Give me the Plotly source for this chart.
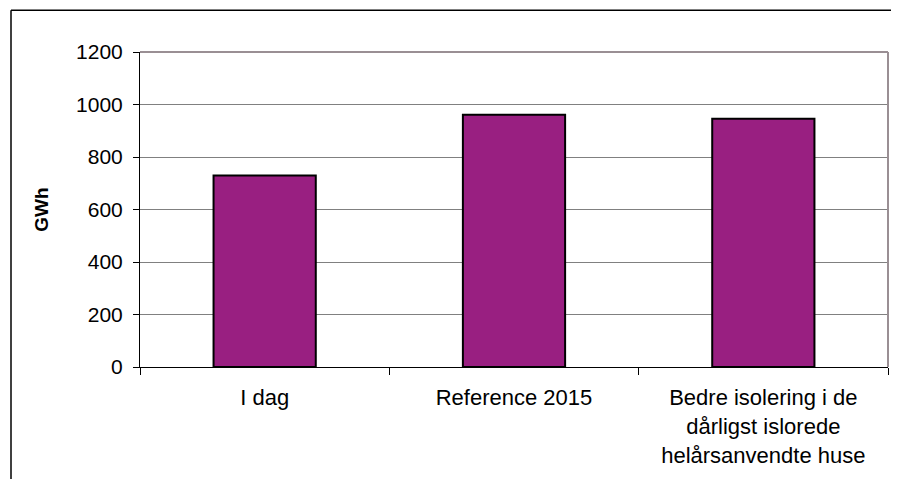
import plotly.graph_objects as go

categories = ["I dag", "Reference 2015", "Bedre isolering i de<br>dårligst islorede<br>helårsanvendte huse"]
values = [730, 961, 946]
y_ticks = [0, 200, 400, 600, 800, 1000, 1200]

# page is offset by the default 8px body margin
O = 8
W, H = 899 - O, 479 - O
L, R, T, B = 140 - O, 11, 52 - O, 110
pw = W - L - R
ph = H - T - B

def px(x):
    return (x - O - L) / pw

def py(y):
    return (H - B - (y - O)) / ph

fig = go.Figure(go.Bar(
    x=categories, y=values,
    marker=dict(color="#991f81", line=dict(color="black", width=2)),
    width=0.41,
))

fig.update_layout(
    width=W, height=H,
    margin=dict(l=L, r=R, t=T, b=B),
    paper_bgcolor="white", plot_bgcolor="white",
    font=dict(family="Liberation Sans, Arial, sans-serif", size=21, color="black"),
    showlegend=False,
    xaxis=dict(
        type="category", showgrid=False, ticks="outside", tickson="boundaries",
        ticklen=7, tickcolor="black", showline=True, linecolor="black", linewidth=1,
        tickfont=dict(size=22), ticklabelstandoff=11,
    ),
    yaxis=dict(
        range=[0, 1200], tickvals=y_ticks, showgrid=True, gridcolor="#808080", gridwidth=1,
        ticks="outside", ticklen=6, tickcolor="black", showline=True, linecolor="black",
        linewidth=1, zeroline=False, tickfont=dict(size=21), ticklabelstandoff=6,
        title=dict(text="<b>GWh</b>", font=dict(size=19), standoff=22),
    ),
    shapes=[
        dict(type="line", xref="paper", yref="paper", x0=0, x1=1, y0=1, y1=1,
             line=dict(color="#9a8f94", width=2)),
        dict(type="line", xref="paper", yref="paper", x0=1, x1=1, y0=0, y1=1,
             line=dict(color="#9a8f94", width=2)),
        dict(type="line", xref="paper", yref="paper", x0=px(11), x1=px(905), y0=py(10), y1=py(10),
             line=dict(color="black", width=1.5)),
        dict(type="line", xref="paper", yref="paper", x0=px(11), x1=px(11), y0=py(10), y1=py(485),
             line=dict(color="black", width=1.5)),
    ],
)

fig.write_html("out.html", config={"displayModeBar": False})
